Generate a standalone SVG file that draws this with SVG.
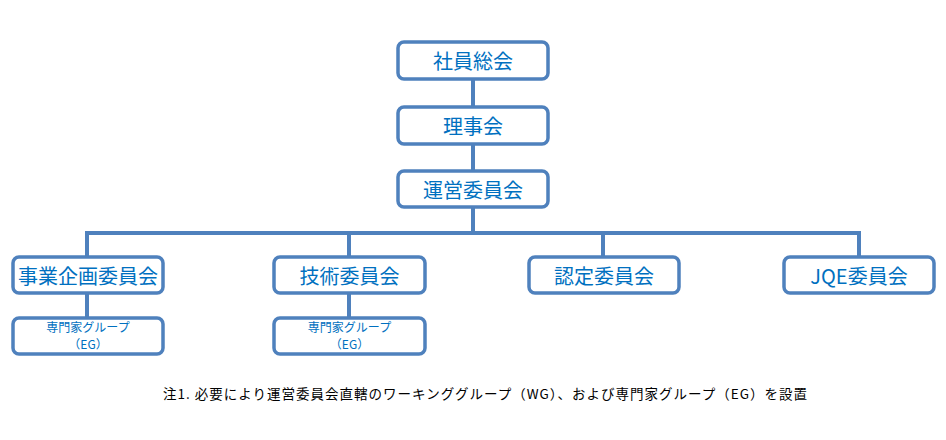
<svg xmlns="http://www.w3.org/2000/svg" width="946" height="440" viewBox="0 0 946 440">
<style>
.box{fill:#fff;stroke:#4f81bd;stroke-width:3.5}
.lbl{font-family:"Noto Sans CJK JP","Liberation Sans",sans-serif;font-size:20px;fill:#0070c0;text-anchor:middle;dominant-baseline:central}
.sm{font-family:"Noto Sans CJK JP","Liberation Sans",sans-serif;font-size:12px;fill:#0070c0;text-anchor:middle}
.note{font-family:"Noto Sans CJK JP","Liberation Sans",sans-serif;font-size:13.5px;fill:#000}
.ln{stroke:#4f81bd;stroke-width:4;fill:none}
</style>
<rect width="946" height="440" fill="#fff"/>
<g id="connectors">
<line class="ln" x1="473" y1="79" x2="473" y2="107"/>
<line class="ln" x1="473" y1="144" x2="473" y2="171"/>
<line class="ln" x1="473" y1="207" x2="473" y2="233"/>
<polyline class="ln" points="87,257 87,233 859,233 859,257"/>
<line class="ln" x1="349" y1="233" x2="349" y2="257"/>
<line class="ln" x1="603" y1="233" x2="603" y2="257"/>
<line class="ln" x1="87" y1="293" x2="87" y2="318"/>
<line class="ln" x1="349" y1="293" x2="349" y2="318"/>
</g>
<g id="n1"><rect class="box" x="398" y="42" width="150" height="37" rx="6"/><text class="lbl" x="473" y="60.5">社員総会</text></g>
<g id="n2"><rect class="box" x="398" y="107" width="150" height="37" rx="6"/><text class="lbl" x="473" y="125.5">理事会</text></g>
<g id="n3"><rect class="box" x="398" y="171" width="150" height="36" rx="6"/><text class="lbl" x="473" y="189">運営委員会</text></g>
<g id="n4"><rect class="box" x="13" y="257" width="150" height="36" rx="6"/><text class="lbl" x="88" y="275">事業企画委員会</text></g>
<g id="n5"><rect class="box" x="274" y="257" width="151" height="36" rx="6"/><text class="lbl" x="349.5" y="275">技術委員会</text></g>
<g id="n6"><rect class="box" x="529" y="257" width="150" height="36" rx="6"/><text class="lbl" x="604" y="275">認定委員会</text></g>
<g id="n7"><rect class="box" x="784" y="257" width="150" height="36" rx="6"/><text class="lbl" x="859" y="275">JQE委員会</text></g>
<g id="n8"><rect class="box" x="13" y="318" width="150" height="36" rx="6"/><text class="sm" x="88" y="332">専門家グループ</text><text class="sm" x="88" y="349">（EG）</text></g>
<g id="n9"><rect class="box" x="274" y="318" width="151" height="36" rx="6"/><text class="sm" x="349.5" y="332">専門家グループ</text><text class="sm" x="349.5" y="349">（EG）</text></g>
<text class="note" x="163" y="399" textLength="644" lengthAdjust="spacing">注1. 必要により運営委員会直轄のワーキンググループ（WG）、および専門家グループ（EG）を設置</text>
</svg>
